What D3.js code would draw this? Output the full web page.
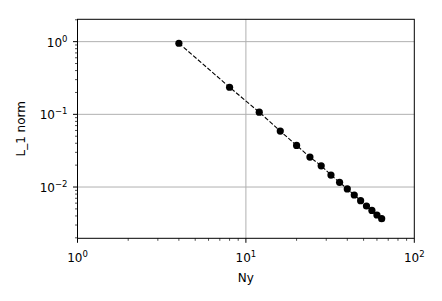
<!DOCTYPE html>
<html><head><meta charset="utf-8">
<script src="https://cdn.jsdelivr.net/npm/d3@7/dist/d3.min.js"></script>
<style>
html,body{margin:0;padding:0;background:#fff;}
svg{display:block;font-family:"DejaVu Sans",sans-serif;}
</style></head>
<body>
<svg id="chart" width="442" height="301"></svg>
<script>
const ny = [4, 8, 12, 16, 20, 24, 28, 32, 36, 40, 44, 48, 52, 56, 60, 64];
const l1norm = [0.95, 0.236, 0.107, 0.0588, 0.0373, 0.0258, 0.0196, 0.0146, 0.0116, 0.0094, 0.00777, 0.00648, 0.00548, 0.00477, 0.00412, 0.00367];
const xMajor = [1, 10, 100];
const xMajorExp = ["0", "1", "2"];
const yMajor = [1, 0.1, 0.01];
const yMajorExp = ["0", "\u22121", "\u22122"];
const xLabel = "Ny";
const yLabel = "L_1 norm";

const svg = d3.select("#chart");
const L = 77.5, R = 414.3, T = 19.3, B = 238.3;
const x = d3.scaleLog().domain([1, 100]).range([L, R]);
const y = d3.scaleLog().domain([0.00197, 2.03]).range([B, T]);

// minor ticks
const xMinor = [];
for (const d of [1, 10]) for (let k = 2; k <= 9; k++) xMinor.push(d * k);
const yMinor = [];
for (const d of [0.001, 0.01, 0.1, 1]) for (let k = 2; k <= 9; k++) {
  const v = d * k;
  if (v >= y.domain()[0] && v <= y.domain()[1]) yMinor.push(v);
}

// grid
const g = svg.append("g");
g.selectAll(".gx").data(xMajor.filter(v => v > 1 && v < 100)).enter().append("line")
  .attr("x1", d => x(d)).attr("x2", d => x(d)).attr("y1", T).attr("y2", B)
  .attr("stroke", "#b0b0b0").attr("stroke-width", 1);
g.selectAll(".gy").data(yMajor).enter().append("line")
  .attr("x1", L).attr("x2", R).attr("y1", d => y(d)).attr("y2", d => y(d))
  .attr("stroke", "#b0b0b0").attr("stroke-width", 1);

// line
const line = d3.line().x((d, i) => x(ny[i])).y(d => y(d));
svg.append("path").datum(l1norm).attr("d", line)
  .attr("fill", "none").attr("stroke", "#000").attr("stroke-width", 1.1)
  .attr("stroke-dasharray", "4.4,1.9");

// markers
svg.selectAll(".pt").data(l1norm).enter().append("circle")
  .attr("cx", (d, i) => x(ny[i])).attr("cy", d => y(d)).attr("r", 3.6).attr("fill", "#000");

// axes frame
svg.append("rect").attr("x", L).attr("y", T).attr("width", R - L).attr("height", B - T)
  .attr("fill", "none").attr("stroke", "#000").attr("stroke-width", 1);

// ticks x
svg.selectAll(".tx").data(xMajor).enter().append("line")
  .attr("x1", d => x(d)).attr("x2", d => x(d)).attr("y1", B).attr("y2", B + 4.5)
  .attr("stroke", "#000").attr("stroke-width", 1);
svg.selectAll(".mx").data(xMinor).enter().append("line")
  .attr("x1", d => x(d)).attr("x2", d => x(d)).attr("y1", B).attr("y2", B + 2.5)
  .attr("stroke", "#000").attr("stroke-width", 0.7);
// ticks y
svg.selectAll(".ty").data(yMajor).enter().append("line")
  .attr("x1", L - 4.5).attr("x2", L).attr("y1", d => y(d)).attr("y2", d => y(d))
  .attr("stroke", "#000").attr("stroke-width", 1);
svg.selectAll(".my").data(yMinor).enter().append("line")
  .attr("x1", L - 2.5).attr("x2", L).attr("y1", d => y(d)).attr("y2", d => y(d))
  .attr("stroke", "#000").attr("stroke-width", 0.7);

// x tick labels
xMajor.forEach((v, i) => {
  const t = svg.append("text").attr("x", x(v)).attr("y", 262).attr("text-anchor", "middle")
    .attr("font-size", 12).attr("fill", "#000");
  t.append("tspan").text("10");
  t.append("tspan").attr("dy", -5).attr("font-size", 8.5).text(xMajorExp[i]);
});
// y tick labels
yMajor.forEach((v, i) => {
  const t = svg.append("text").attr("x", L - 10).attr("y", y(v) + 5).attr("text-anchor", "end")
    .attr("font-size", 12).attr("fill", "#000");
  t.append("tspan").text("10");
  t.append("tspan").attr("dy", -5).attr("font-size", 8.5).text(yMajorExp[i]);
});

// axis labels
svg.append("text").attr("x", (L + R) / 2).attr("y", 282).attr("text-anchor", "middle")
  .attr("font-size", 12).attr("fill", "#000").text(xLabel);
svg.append("text").attr("transform", `translate(25,${(T + B) / 2}) rotate(-90)`)
  .attr("text-anchor", "middle").attr("font-size", 12).attr("fill", "#000").text(yLabel);
</script>
</body></html>
